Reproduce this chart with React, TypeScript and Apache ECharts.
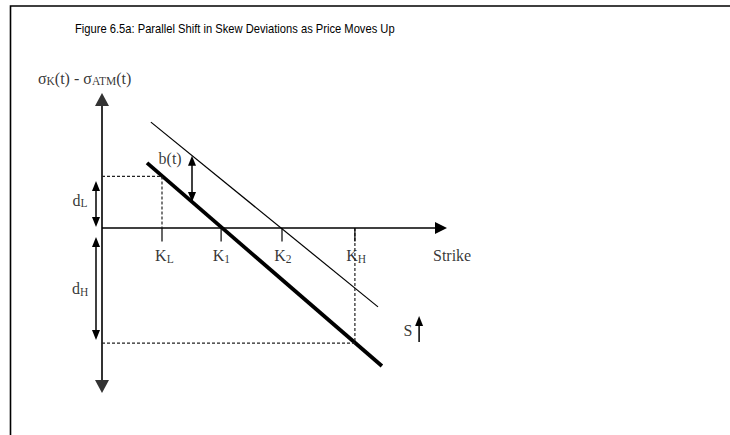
import { useEffect, useRef } from 'react';
import * as echarts from 'echarts';

// ---- content / values (strike units horizontally, skew-deviation units vertically) ----
const titleText = 'Figure 6.5a: Parallel Shift in Skew Deviations as Price Moves Up';
const strikeTicks = [2, 3.97, 6, 8.43];
const strikeTickLabels = ['K{s|L}', 'K{s|1}', 'K{s|2}', 'K{s|H}'];
const strikeLabelX = [2.08, 3.98, 6.03, 8.47];
const strikeLabelY = -0.93;
const tickDepth = -0.45;
const currentSkew = [[1.5, 2.17], [9.33, -4.6]];
const shiftedSkew = [[1.63, 3.53], [9.2, -2.63]];
const lowStrike = 2;
const lowDev = 1.72;
const highStrike = 8.43;
const highDev = -3.84;
const yAxisExtent = [-5.5, 4.5];
const xAxisEnd = 11.5;
const dLArrow = [-0.2, 0.03, -0.2, 1.57];
const dHArrow = [-0.2, -0.3, -0.2, -3.73];
const bArrow = [3.0, 0.87, 3.0, 2.41];
const sArrow = [10.57, -3.8, 10.57, -2.93];
const textLabels = [
  { text: 'Strike', pos: [11.67, -0.93] },
  { text: 'd{s|L}', pos: [-0.73, 0.93] },
  { text: 'd{s|H}', pos: [-0.73, -2.03] },
  { text: 'b(t)', pos: [2.27, 2.33] },
  { text: 'S', pos: [10.2, -3.4] },
  { text: '{m|σ}{s|K}{m|(t) - σ}{c|ATM}{m|(t)}', pos: [-0.58, 5.0] },
];

const SERIF = '"Liberation Serif", "DejaVu Serif", serif';

function arrowSeries(
  name: string,
  data: number[][],
  o: { color: string; width: number; w: number; h: number; start: boolean; end: boolean }
) {
  return {
    type: 'custom',
    name,
    silent: true,
    clip: false,
    data,
    renderItem: (_p: any, api: any) => {
      const p1 = api.coord([api.value(0), api.value(1)]);
      const p2 = api.coord([api.value(2), api.value(3)]);
      const dx = p2[0] - p1[0];
      const dy = p2[1] - p1[1];
      const len = Math.hypot(dx, dy) || 1;
      const ux = dx / len;
      const uy = dy / len;
      const nx = -uy;
      const ny = ux;
      const children: any[] = [];
      const a = o.start ? [p1[0] + ux * o.h * 0.9, p1[1] + uy * o.h * 0.9] : p1;
      const b = o.end ? [p2[0] - ux * o.h * 0.9, p2[1] - uy * o.h * 0.9] : p2;
      children.push({
        type: 'line',
        shape: { x1: a[0], y1: a[1], x2: b[0], y2: b[1] },
        style: { stroke: o.color, lineWidth: o.width },
      });
      const head = (tip: number[], sx: number, sy: number) => ({
        type: 'polygon',
        shape: {
          points: [
            [tip[0], tip[1]],
            [tip[0] - sx * o.h + nx * o.w / 2, tip[1] - sy * o.h + ny * o.w / 2],
            [tip[0] - sx * o.h - nx * o.w / 2, tip[1] - sy * o.h - ny * o.w / 2],
          ],
        },
        style: { fill: o.color },
      });
      if (o.end) children.push(head(p2, ux, uy));
      if (o.start) children.push(head(p1, -ux, -uy));
      return { type: 'group', children };
    },
  };
}

export default function App() {
  const ref = useRef<HTMLDivElement>(null);
  useEffect(() => {
    if (!ref.current) return;
    const chart = echarts.init(ref.current, undefined, { renderer: 'svg' });
    const rich = {
      m: { fontFamily: SERIF, fontSize: 16, lineHeight: 18, color: '#000' },
      s: { fontFamily: SERIF, fontSize: 11.5, lineHeight: 10, verticalAlign: 'bottom', color: '#000' },
      c: { fontFamily: SERIF, fontSize: 11.5, lineHeight: 14, verticalAlign: 'bottom', color: '#000' },
    };
    const labelItems = [
      ...strikeTickLabels.map((t, i) => ({ text: t, pos: [strikeLabelX[i], strikeLabelY] })),
      ...textLabels,
    ].map((l) => ({
      value: l.pos,
      label: { formatter: l.text },
    }));

    const series: any[] = [
      {
        type: 'line',
        name: 'current skew',
        data: currentSkew,
        symbol: 'none',
        silent: true,
        lineStyle: { color: '#000', width: 3.8 },
      },
      {
        type: 'line',
        name: 'shifted skew',
        data: shiftedSkew,
        symbol: 'none',
        silent: true,
        lineStyle: { color: '#000', width: 1.2 },
      },
      {
        type: 'line',
        name: 'low guide',
        data: [[0, lowDev], [lowStrike, lowDev], [lowStrike, 0]],
        symbol: 'none',
        silent: true,
        lineStyle: { color: '#222', width: 1.2, type: [3, 2] },
      },
      {
        type: 'line',
        name: 'high guide',
        data: [[0, highDev], [highStrike, highDev], [highStrike, 0]],
        symbol: 'none',
        silent: true,
        lineStyle: { color: '#222', width: 1.2, type: [3, 2] },
      },
      ...strikeTicks.map((t) => ({
        type: 'line',
        data: [[t, 0], [t, tickDepth]],
        symbol: 'none',
        silent: true,
        lineStyle: { color: '#000', width: 1.2 },
      })),
      arrowSeries('y axis', [[0, yAxisExtent[0], 0, yAxisExtent[1]]], {
        color: '#333', width: 2, w: 14, h: 13, start: true, end: true,
      }),
      arrowSeries('x axis', [[0, 0, xAxisEnd, 0]], {
        color: '#000', width: 1.5, w: 12, h: 12, start: false, end: true,
      }),
      arrowSeries('measures', [dLArrow, dHArrow, bArrow], {
        color: '#000', width: 1.5, w: 8, h: 10, start: true, end: true,
      }),
      arrowSeries('price', [sArrow], {
        color: '#000', width: 1.5, w: 8, h: 10, start: false, end: true,
      }),
      {
        type: 'scatter',
        name: 'labels',
        silent: true,
        symbolSize: 1,
        itemStyle: { color: 'rgba(0,0,0,0)' },
        data: labelItems,
        label: {
          show: true,
          position: 'inside',
          fontFamily: SERIF,
          fontSize: 16,
          lineHeight: 18,
          color: '#000',
          rich,
        },
      },
    ];

    chart.setOption({
      animation: false,
      backgroundColor: '#fff',
      grid: { left: 0, right: 0, top: 0, bottom: 0, containLabel: false },
      xAxis: { type: 'value', min: -3.4, max: 628 / 30, show: false },
      yAxis: { type: 'value', min: -6.9, max: 7.6, show: false },
      graphic: [
        {
          type: 'polyline',
          silent: true,
          shape: { points: [[10.5, 435], [10.5, 6], [730, 6]] },
          style: { stroke: '#000', lineWidth: 1.6, fill: 'none' },
        },
        {
          type: 'text',
          silent: true,
          x: 75,
          y: 29,
          scaleX: 0.86,
          style: {
            text: titleText,
            fontFamily: '"Liberation Sans", Arial, sans-serif',
            fontSize: 13,
            fill: '#000',
            verticalAlign: 'middle',
          },
        },
      ],
      series,
    });
    return () => chart.dispose();
  }, []);
  return (
    <div
      ref={ref}
      style={{ position: 'fixed', left: 0, top: 0, width: 730, height: 435, background: '#fff' }}
    />
  );
}
